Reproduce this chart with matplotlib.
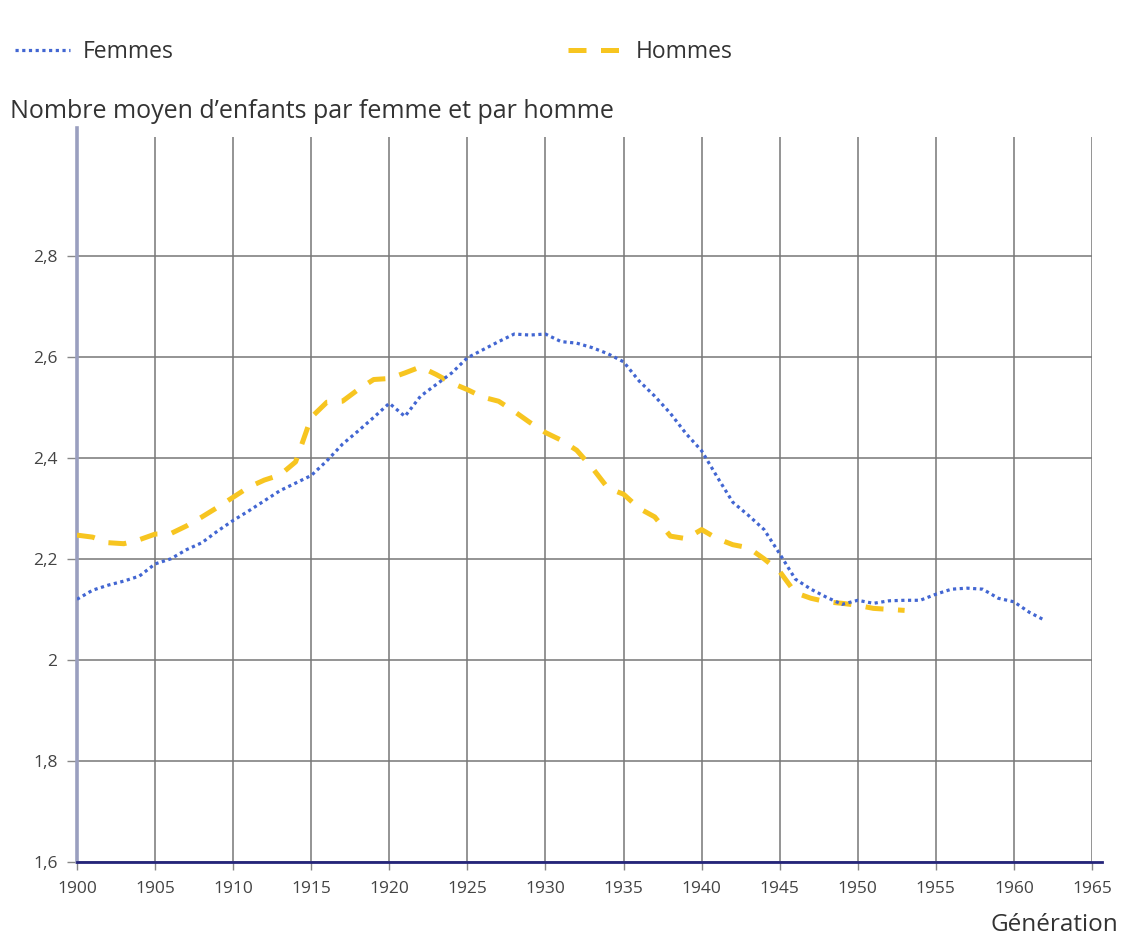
import matplotlib
matplotlib.use("Agg")
import matplotlib.pyplot as plt
from matplotlib.lines import Line2D

plt.rcParams['font.family'] = ['Open Sans', 'DejaVu Sans']

# Generations (birth years)
years_f = list(range(1900, 1963))
femmes = [
    2.120, 2.138, 2.148, 2.156, 2.166, 2.190, 2.200, 2.218, 2.232, 2.255,
    2.276, 2.295, 2.315, 2.335, 2.350, 2.365, 2.394, 2.427, 2.453, 2.480,
    2.508, 2.482, 2.522, 2.545, 2.568, 2.598, 2.614, 2.630, 2.645, 2.643,
    2.645, 2.630, 2.627, 2.618, 2.606, 2.590, 2.552, 2.522, 2.488, 2.448,
    2.414, 2.362, 2.312, 2.286, 2.258, 2.210, 2.160, 2.140, 2.124, 2.110,
    2.118, 2.112, 2.117, 2.118, 2.118, 2.130, 2.140, 2.142, 2.140, 2.122,
    2.115, 2.094, 2.078,
]

years_h = list(range(1900, 1954))
hommes = [
    2.247, 2.243, 2.232, 2.230, 2.238, 2.249, 2.250, 2.265, 2.283, 2.302,
    2.322, 2.342, 2.356, 2.366, 2.392, 2.480, 2.510, 2.512, 2.535, 2.555,
    2.557, 2.568, 2.580, 2.565, 2.548, 2.535, 2.520, 2.512, 2.492, 2.470,
    2.450, 2.435, 2.415, 2.380, 2.340, 2.328, 2.300, 2.283, 2.245, 2.240,
    2.258, 2.240, 2.228, 2.222, 2.200, 2.175, 2.133, 2.122, 2.115, 2.112,
    2.108, 2.102, 2.100, 2.098,
]

x_ticks = list(range(1900, 1966, 5))
y_ticks = [1.6, 1.8, 2.0, 2.2, 2.4, 2.6, 2.8]
y_tick_labels = ["1,6", "1,8", "2", "2,2", "2,4", "2,6", "2,8"]

BLUE = "#4266d2"
YELLOW = "#f7c520"
TEXT = "#333333"

W, H = 1123, 940
fig = plt.figure(figsize=(W / 100, H / 100), dpi=100)
fig.patch.set_facecolor("white")

left, right, bottom, top = 77, 1092, 862, 137
ax = fig.add_axes([left / W, 1 - bottom / H, (right - left) / W, (bottom - top) / H])

ax.plot(years_h, hommes, color=YELLOW, lw=3.6, linestyle=(0, (3.6, 2.9)),
        solid_capstyle="butt", dash_capstyle="butt", zorder=3)
ax.plot(years_f, femmes, color=BLUE, lw=2.3, linestyle=(0, (1, 1.1)), zorder=4)

ax.set_xlim(1900, 1965)
ax.set_ylim(1.6, 3.0 + 0.035)
ax.set_xticks(x_ticks)
ax.set_xticklabels([str(v) for v in x_ticks])
ax.set_yticks(y_ticks)
ax.set_yticklabels(y_tick_labels)

ax.grid(True, color="#777777", lw=1.1, zorder=1)
ax.set_axisbelow(True)

for s in ("top", "right"):
    ax.spines[s].set_visible(False)
ax.spines["left"].set_color("#9a9fbf")
ax.spines["left"].set_linewidth(2.6)
ax.spines["left"].set_bounds(1.6, 3.052)
ax.spines["bottom"].set_color("#25257a")
ax.spines["bottom"].set_linewidth(2.0)
ax.spines["bottom"].set_bounds(1900, 1965.65)
ax.spines["bottom"].set_zorder(5)

ax.tick_params(axis="both", colors="#888888", labelcolor="#444444",
               labelsize=12.5, width=1.0)
ax.tick_params(axis="y", length=7, pad=7)
ax.tick_params(axis="x", length=6, pad=8)

# Legend entries, one per series, placed side by side above the plot
LEG_FS = 16.5
h_f = Line2D([], [], color=BLUE, lw=2.3, linestyle=(0, (1, 1.1)))
h_h = Line2D([], [], color=YELLOW, lw=3.6, linestyle=(0, (3.6, 2.9)))
leg_kw = dict(loc="center left", frameon=False, fontsize=LEG_FS,
              handlelength=2.4, handletextpad=0.55, borderpad=0,
              borderaxespad=0, labelcolor=TEXT)
fig.legend([h_f], ["Femmes"], bbox_to_anchor=(15 / W, 1 - 52 / H), **leg_kw)
fig.legend([h_h], ["Hommes"], bbox_to_anchor=(568 / W, 1 - 52 / H), **leg_kw)

fig.text(10 / W, 1 - 112 / H, "Nombre moyen d\u2019enfants par femme et par homme",
         fontsize=18, color=TEXT, ha="left", va="center")
fig.text(1118 / W, 1 - 925 / H, "Génération", fontsize=17.5, color=TEXT,
         ha="right", va="center")

fig.savefig("out.png", dpi=100, facecolor="white")
